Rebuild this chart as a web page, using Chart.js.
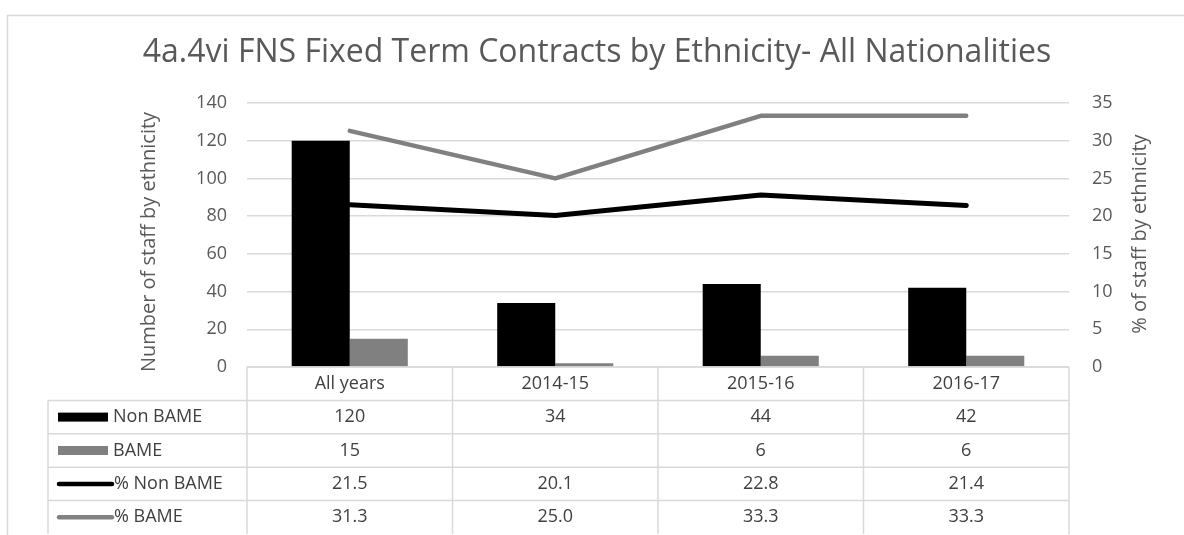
<!DOCTYPE html>
<html>
<head>
<meta charset="utf-8">
<script src="https://cdn.jsdelivr.net/npm/chart.js@4"></script>
<style>
  body { margin: 0; background: #fff; }
  canvas { display: block; }
</style>
</head>
<body>
<canvas id="fnsChart" width="1184" height="535"></canvas>
<script>
// Fixed term contracts by ethnicity
const categories = ['All years', '2014-15', '2015-16', '2016-17'];
const nonBame = [120, 34, 44, 42];
const bame = [15, 2, 6, 6];
const bameShown = [true, false, true, true]; // 2014-15 count left blank in the table
const pctNonBame = [21.5, 20.1, 22.8, 21.4];
const pctBame = [31.3, 25.0, 33.3, 33.3];
const countTicks = [0, 20, 40, 60, 80, 100, 120, 140];
const pctTicks = [0, 5, 10, 15, 20, 25, 30, 35];

const FONT = '"Open Sans", "Liberation Sans", sans-serif';
const TEXT = '#595959';
const GRID = '#d9d9d9';
const BLACK = '#000000';
const GREY = '#808080';

// Series rows shown in the data table under the plot
const tableRows = [
  { name: 'Non BAME', kind: 'bar', color: BLACK, values: nonBame.map(String) },
  { name: 'BAME', kind: 'bar', color: GREY, values: bame.map((v, i) => bameShown[i] ? String(v) : '') },
  { name: '% Non BAME', kind: 'line', color: BLACK, values: pctNonBame.map(v => v.toFixed(1)) },
  { name: '% BAME', kind: 'line', color: GREY, values: pctBame.map(v => v.toFixed(1)) },
];

const chartDecor = {
  id: 'chartDecor',
  beforeDraw(chart) {
    const ctx = chart.ctx;
    ctx.save();
    ctx.strokeStyle = GRID;
    ctx.lineWidth = 1.5;
    ctx.strokeRect(7.5, 15.5, chart.width + 10, chart.height + 10);
    ctx.restore();
  },
  afterDraw(chart) {
    const ctx = chart.ctx;
    const area = chart.chartArea;
    const x = chart.scales.x;
    ctx.save();

    // title, sized to its box
    const title = '4a.4vi FNS Fixed Term Contracts by Ethnicity- All Nationalities';
    let size = 40;
    ctx.font = size + 'px ' + FONT;
    while (ctx.measureText(title).width > 914 && size > 10) {
      size -= 0.5;
      ctx.font = size + 'px ' + FONT;
    }
    ctx.fillStyle = TEXT;
    ctx.textAlign = 'center';
    ctx.textBaseline = 'middle';
    ctx.fillText(title, 597, 53);

    // axis titles
    ctx.font = '20px ' + FONT;
    ctx.save();
    ctx.translate(149, 242);
    ctx.rotate(-Math.PI / 2);
    ctx.fillText('Number of staff by ethnicity', 0, 0);
    ctx.restore();
    ctx.save();
    ctx.translate(1140, 234);
    ctx.rotate(-Math.PI / 2);
    ctx.fillText('% of staff by ethnicity', 0, 0);
    ctx.restore();

    // data table
    const n = categories.length;
    const colW = (area.right - area.left) / n;
    const top = area.bottom;
    const rowH = 33.4;
    const labelLeft = 48;
    const bottom = top + rowH * (tableRows.length + 1);

    ctx.strokeStyle = GRID;
    ctx.lineWidth = 1.5;
    ctx.beginPath();
    for (let i = 0; i <= n; i++) {
      const cx = area.left + i * colW;
      ctx.moveTo(cx, top);
      ctx.lineTo(cx, bottom);
    }
    ctx.moveTo(labelLeft, top + rowH);
    ctx.lineTo(labelLeft, bottom);
    ctx.moveTo(area.left, top);
    ctx.lineTo(area.right, top);
    for (let r = 1; r <= tableRows.length; r++) {
      const ry = top + r * rowH;
      ctx.moveTo(labelLeft, ry);
      ctx.lineTo(area.right, ry);
    }
    ctx.stroke();

    ctx.font = '18px ' + FONT;
    ctx.fillStyle = '#404040';
    ctx.textAlign = 'center';
    categories.forEach((c, i) => {
      ctx.fillText(c, x.getPixelForValue(i), top + rowH / 2);
    });

    tableRows.forEach((row, r) => {
      const cy = top + (r + 1.5) * rowH;
      // legend key
      if (row.kind === 'bar') {
        ctx.fillStyle = row.color;
        ctx.fillRect(58, cy - 4.5, 50, 9);
      } else {
        ctx.strokeStyle = row.color;
        ctx.lineWidth = 4.5;
        ctx.lineCap = 'round';
        ctx.beginPath();
        ctx.moveTo(59, cy);
        ctx.lineTo(112, cy);
        ctx.stroke();
      }
      ctx.fillStyle = '#404040';
      ctx.textAlign = 'left';
      ctx.fillText(row.name, row.kind === 'bar' ? 113 : 114, cy);
      ctx.textAlign = 'center';
      row.values.forEach((v, i) => {
        ctx.fillText(v, x.getPixelForValue(i), cy);
      });
    });

    ctx.restore();
  }
};

new Chart(document.getElementById('fnsChart'), {
  type: 'bar',
  data: {
    labels: categories,
    datasets: [
      {
        type: 'line',
        label: '% Non BAME',
        data: pctNonBame,
        yAxisID: 'y1',
        borderColor: BLACK,
        borderWidth: 5,
        borderJoinStyle: 'round',
        borderCapStyle: 'round',
        pointRadius: 0,
        order: 0,
      },
      {
        type: 'line',
        label: '% BAME',
        data: pctBame,
        yAxisID: 'y1',
        borderColor: GREY,
        borderWidth: 4.5,
        borderJoinStyle: 'round',
        borderCapStyle: 'round',
        pointRadius: 0,
        order: 0,
      },
      {
        label: 'Non BAME',
        data: nonBame,
        yAxisID: 'y',
        backgroundColor: BLACK,
        categoryPercentage: 0.565,
        barPercentage: 1,
        order: 1,
      },
      {
        label: 'BAME',
        data: bame,
        yAxisID: 'y',
        backgroundColor: GREY,
        categoryPercentage: 0.565,
        barPercentage: 1,
        order: 1,
      },
    ],
  },
  options: {
    responsive: false,
    animation: false,
    devicePixelRatio: 1,
    layout: { padding: { top: 103, bottom: 168, left: 0, right: 0 } },
    plugins: {
      legend: { display: false },
      tooltip: { enabled: false },
    },
    scales: {
      x: { display: false },
      y: {
        position: 'left',
        min: countTicks[0],
        max: countTicks[countTicks.length - 1],
        afterBuildTicks: s => { s.ticks = countTicks.map(v => ({ value: v })); },
        afterFit: s => { s.width = 247; },
        grid: { color: GRID, lineWidth: 1.5, drawTicks: false },
        border: { display: false },
        ticks: { padding: 20, color: TEXT, font: { family: FONT, size: 18 } },
      },
      y1: {
        position: 'right',
        min: pctTicks[0],
        max: pctTicks[pctTicks.length - 1],
        afterBuildTicks: s => { s.ticks = pctTicks.map(v => ({ value: v })); },
        afterFit: s => { s.width = 115; },
        grid: { display: false, drawTicks: false },
        border: { display: false },
        ticks: { padding: 23, color: TEXT, font: { family: FONT, size: 18 } },
      },
    },
  },
  plugins: [chartDecor],
});
</script>
</body>
</html>
